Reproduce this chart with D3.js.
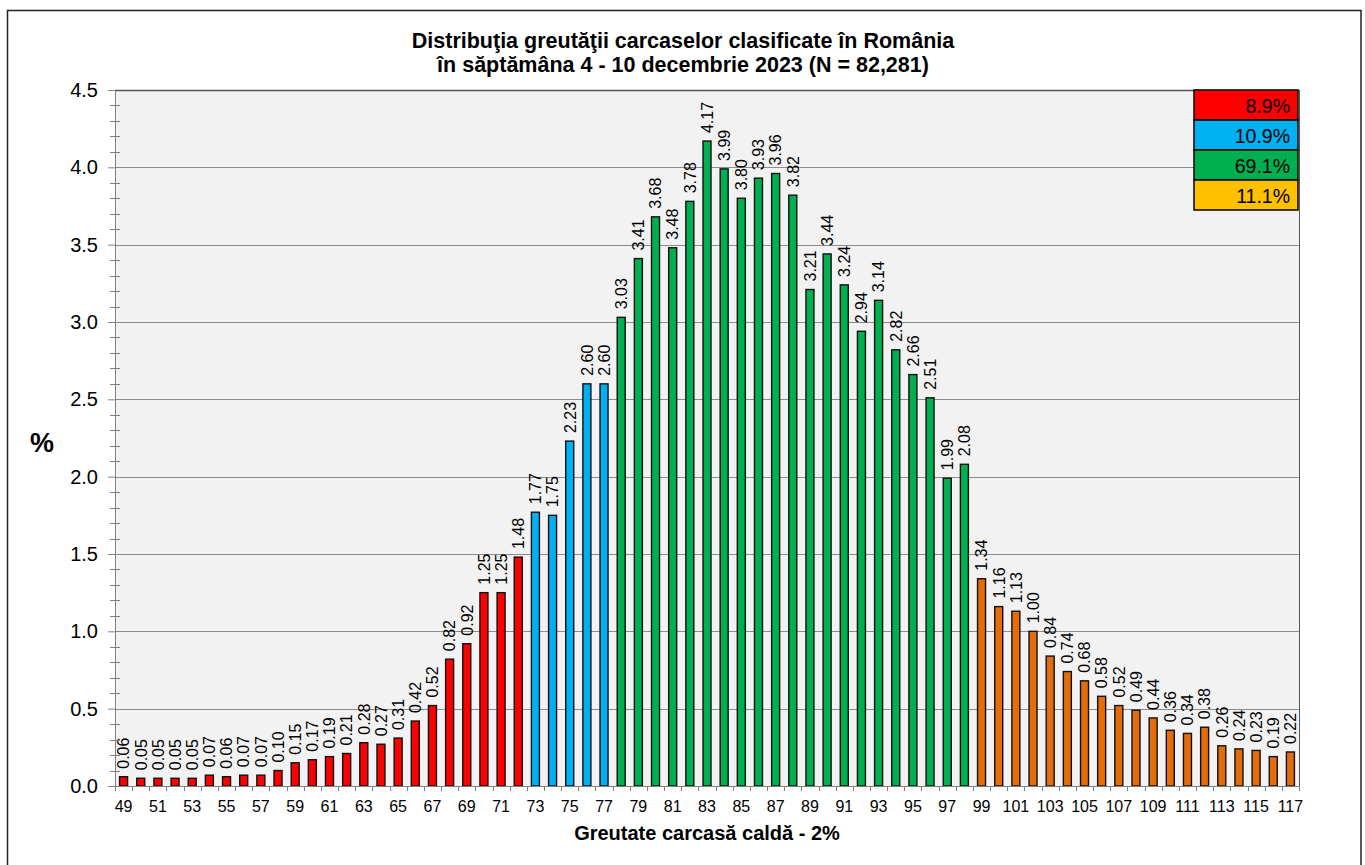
<!DOCTYPE html>
<html>
<head>
<meta charset="utf-8">
<script src="https://cdn.jsdelivr.net/npm/d3@7/dist/d3.min.js"></script>
<style>
  html, body { margin: 0; padding: 0; background: #fff; }
  svg text { font-family: "Liberation Sans", Arial, sans-serif; }
</style>
</head>
<body>
<svg id="chart" width="1365" height="865"></svg>
<script>
// ---- data ----
const categories = d3.range(49, 118); // 49..117
const values = [
  0.06, 0.05, 0.05, 0.05, 0.05, 0.07, 0.06, 0.07, 0.07, 0.10,
  0.15, 0.17, 0.19, 0.21, 0.28, 0.27, 0.31, 0.42, 0.52, 0.82,
  0.92, 1.25, 1.25, 1.48,
  1.77, 1.75, 2.23, 2.60, 2.60,
  3.03, 3.41, 3.68, 3.48, 3.78, 4.17, 3.99, 3.80, 3.93, 3.96,
  3.82, 3.21, 3.44, 3.24, 2.94, 3.14, 2.82, 2.66, 2.51, 1.99, 2.08,
  1.34, 1.16, 1.13, 1.00, 0.84, 0.74, 0.68, 0.58, 0.52, 0.49,
  0.44, 0.36, 0.34, 0.38, 0.26, 0.24, 0.23, 0.19, 0.22
];
const groupStarts = [49, 73, 78, 99];       // first category of each class
const groupColors = ["#FF0000", "#00B0F0", "#00B050", "#E46C0A"];
const legendLabels = ["8.9%", "10.9%", "69.1%", "11.1%"];
const legendColors = ["#FF0000", "#00B0F0", "#00B050", "#FFC000"];
const yTicks = [0, 0.5, 1.0, 1.5, 2.0, 2.5, 3.0, 3.5, 4.0, 4.5];
const titleLines = ["Distribuţia greutăţii carcaselor clasificate în România",
                    "în săptămâna 4 - 10 decembrie 2023 (N = 82,281)"];
const xTitle = "Greutate carcasă caldă - 2%";
const yTitle = "%";

const data = categories.map((c, i) => ({ c, v: values[i] }));
function colorFor(c) {
  let idx = 0;
  groupStarts.forEach((s, i) => { if (c >= s) idx = i; });
  return groupColors[idx];
}

// ---- layout ----
const svg = d3.select("#chart");
const L = 115, R = 1299, T = 90, B = 786;

// outer frame
svg.append("rect").attr("x", 7.5).attr("y", 10.5).attr("width", 1353.5).attr("height", 870)
  .attr("fill", "none").attr("stroke", "#222").attr("stroke-width", 1.5);

const x = d3.scaleBand().domain(categories).range([L, R]).paddingInner(0).paddingOuter(0);
const y = d3.scaleLinear().domain([0, 4.5]).range([B, T]);

// plot background
svg.append("rect").attr("x", L).attr("y", T).attr("width", R - L).attr("height", B - T)
  .attr("fill", "#F2F2F2");

// gridlines
svg.append("g").selectAll("line").data(yTicks.filter(t => t > 0 && t < 4.5)).join("line")
  .attr("x1", L).attr("x2", R)
  .attr("y1", d => Math.round(y(d)) + 0.5).attr("y2", d => Math.round(y(d)) + 0.5)
  .attr("stroke", "#8C8C8C").attr("stroke-width", 1.2);

// plot border top/right
svg.append("line").attr("x1", L).attr("x2", R).attr("y1", T + 0.5).attr("y2", T + 0.5)
  .attr("stroke", "#555").attr("stroke-width", 1.5);
svg.append("line").attr("x1", R + 0.5).attr("x2", R + 0.5).attr("y1", T).attr("y2", B)
  .attr("stroke", "#555").attr("stroke-width", 1);

// bars
const bw = 8;
svg.append("g").selectAll("rect").data(data).join("rect")
  .attr("x", d => x(d.c) + x.bandwidth() / 2 - bw / 2)
  .attr("y", d => y(d.v))
  .attr("width", bw)
  .attr("height", d => B - y(d.v))
  .attr("fill", d => colorFor(d.c))
  .attr("stroke", "#111").attr("stroke-width", 1.4);

// value labels
svg.append("g").selectAll("text").data(data).join("text")
  .attr("transform", d => `translate(${x(d.c) + x.bandwidth() / 2 + 5.8},${y(d.v) - 8}) rotate(-90)`)
  .attr("font-size", 16).attr("fill", "#000")
  .text(d => d.v.toFixed(2));

// y axis
const yAxis = d3.axisLeft(y).tickValues(yTicks).tickFormat(d3.format(".1f")).tickSize(7).tickPadding(10);
const gy = svg.append("g").attr("transform", `translate(${L},0)`).call(yAxis);
gy.select(".domain").attr("stroke", "#808080");
gy.selectAll(".tick line").attr("stroke", "#808080");
gy.selectAll(".tick text").attr("font-size", 20).attr("fill", "#000")
  .attr("font-family", "'Liberation Sans', Arial, sans-serif");
// minor ticks
const minor = d3.range(0, 4.51, 0.1).map(v => +v.toFixed(1)).filter(v => Math.round(v * 10) % 5 !== 0);
svg.append("g").selectAll("line").data(minor).join("line")
  .attr("x1", L - 5).attr("x2", L + 5)
  .attr("y1", d => Math.round(y(d)) + 0.5).attr("y2", d => Math.round(y(d)) + 0.5)
  .attr("stroke", "#808080");

// x axis
const gx = svg.append("g").attr("transform", `translate(0,${B})`);
gx.append("line").attr("x1", L).attr("x2", R).attr("y1", 0.5).attr("y2", 0.5).attr("stroke", "#808080");
const boundaries = categories.map(c => x(c)).concat([R]);
gx.selectAll("line.tk").data(boundaries).join("line").attr("class", "tk")
  .attr("x1", d => Math.round(d) + 0.5).attr("x2", d => Math.round(d) + 0.5)
  .attr("y1", 0).attr("y2", 5).attr("stroke", "#808080");
gx.selectAll("text").data(categories.filter(c => c % 2 === 1)).join("text")
  .attr("x", d => x(d) + x.bandwidth() / 2).attr("y", 26)
  .attr("text-anchor", "middle").attr("font-size", 16).attr("fill", "#000")
  .text(d => d);

// titles
svg.append("g").selectAll("text").data(titleLines).join("text")
  .attr("x", 683).attr("y", (d, i) => 47.5 + i * 24)
  .attr("text-anchor", "middle").attr("font-size", 21.5).attr("font-weight", "bold")
  .attr("fill", "#000").text(d => d);

svg.append("text").attr("x", (L + R) / 2).attr("y", 840).attr("text-anchor", "middle")
  .attr("font-size", 20).attr("font-weight", "bold").text(xTitle);
svg.append("text").attr("x", 42).attr("y", 452).attr("text-anchor", "middle")
  .attr("font-size", 27).attr("font-weight", "bold").text(yTitle);

// legend box
const lg = svg.append("g");
const lx = 1194, ly = 90, lw = 104, lh = 30;
lg.selectAll("rect").data(legendLabels).join("rect")
  .attr("x", lx).attr("y", (d, i) => ly + i * lh).attr("width", lw).attr("height", lh)
  .attr("fill", (d, i) => legendColors[i]).attr("stroke", "#000").attr("stroke-width", 1.5);
lg.selectAll("text").data(legendLabels).join("text")
  .attr("x", lx + lw - 8).attr("y", (d, i) => ly + i * lh + 23)
  .attr("text-anchor", "end").attr("font-size", 19.5).attr("fill", "#000")
  .text(d => d);
</script>
</body>
</html>
